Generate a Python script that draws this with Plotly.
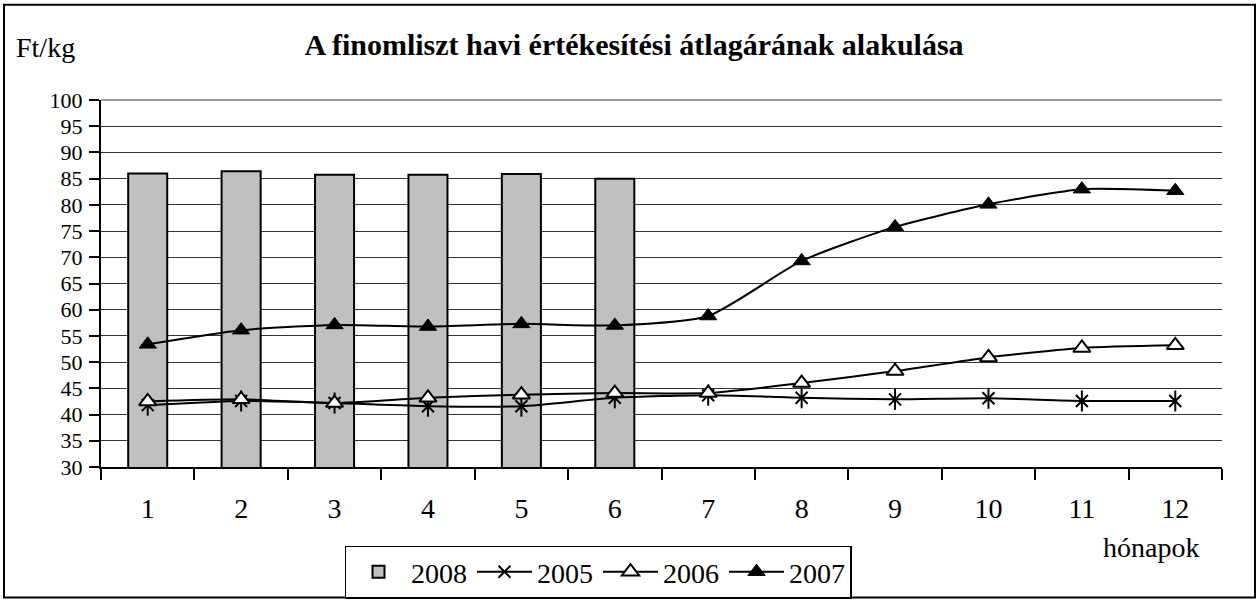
import plotly.graph_objects as go

months = [str(i) for i in range(1, 13)]
bar_months = months[:6]
v2008 = [86.0, 86.4, 85.75, 85.75, 85.9, 85.0]
v2005 = [41.8, 42.6, 42.2, 41.6, 41.6, 43.2, 43.7, 43.2, 42.9, 43.1, 42.6, 42.6]
v2006 = [42.5, 42.9, 42.2, 43.2, 43.8, 44.1, 44.1, 46.0, 48.3, 50.9, 52.7, 53.2]
v2007 = [53.4, 56.1, 57.1, 56.8, 57.3, 57.0, 58.8, 69.3, 75.8, 80.1, 83.0, 82.7]

FONT = "Liberation Serif, Times New Roman, serif"
FS = 28
YFS = 22
W, H = 1259, 610
L, R, T, B = 101, 37, 100, 136
PW, PH = W - L - R, H - T - B

def px(x):
    return (x - L) / PW

def py(y):
    return (H - B - y) / PH

LINE = dict(color="black", width=2, shape="spline", smoothing=0.6)

fig = go.Figure()
fig.add_trace(go.Bar(x=bar_months, y=v2008, name="2008",
                     marker=dict(color="#C0C0C0", line=dict(color="black", width=2))))
fig.add_trace(go.Scatter(x=months, y=v2005, name="2005", mode="lines+markers", legendgroup="2005",
                         line=LINE,
                         marker=dict(symbol="x-thin-open", size=12, color="black",
                                     line=dict(color="black", width=2))))
fig.add_trace(go.Scatter(x=months, y=v2005, name="2005", mode="markers", legendgroup="2005",
                         showlegend=False,
                         marker=dict(symbol="line-ns-open", size=15, color="black",
                                     line=dict(color="black", width=2))))
fig.add_trace(go.Scatter(x=months, y=v2006, name="2006", mode="lines+markers",
                         line=LINE,
                         marker=dict(symbol="triangle-up", size=15, color="white",
                                     line=dict(color="black", width=2))))
fig.add_trace(go.Scatter(x=months, y=v2007, name="2007", mode="lines+markers",
                         line=LINE,
                         marker=dict(symbol="triangle-up", size=15, color="black",
                                     line=dict(color="black", width=1))))

fig.update_layout(
    width=W, height=H, autosize=False,
    margin=dict(l=L, r=R, t=T, b=B),
    paper_bgcolor="white", plot_bgcolor="white",
    font=dict(family=FONT, size=FS, color="black"),
    bargap=0.582,
    title=dict(text="<b>A finomliszt havi értékesítési átlagárának alakulása</b>",
               x=634 / W, xanchor="center", y=1 - 44 / H, yanchor="middle",
               font=dict(family=FONT, size=30, color="black")),
    showlegend=True,
    legend=dict(orientation="h", x=px(598), xanchor="center", y=py(554), yanchor="top",
                bordercolor="black", borderwidth=1.5, bgcolor="white", itemwidth=55,
                font=dict(family=FONT, size=FS, color="black"), traceorder="normal"),
    xaxis=dict(type="category", categoryorder="array", categoryarray=months,
               range=[-0.5, 11.5], showgrid=False, showline=True, linecolor="black", linewidth=2,
               ticks="outside", tickson="boundaries", ticklen=11, tickwidth=2, tickcolor="black",
               ticklabelstandoff=15, tickfont=dict(family=FONT, size=FS), zeroline=False),
    yaxis=dict(range=[30, 100], dtick=5, showgrid=True, gridcolor="#333", gridwidth=1,
               showline=True, linecolor="black", linewidth=2, ticks="outside", ticklen=10,
               tickwidth=2, tickcolor="black", ticklabelstandoff=2,
               tickfont=dict(family=FONT, size=YFS), zeroline=False),
    annotations=[
        dict(text="Ft/kg", x=px(14), y=py(46), xref="paper", yref="paper", xanchor="left",
             yanchor="middle", showarrow=False, font=dict(family=FONT, size=FS)),
        dict(text="hónapok", x=px(1201), y=py(556), xref="paper", yref="paper", xanchor="right",
             yanchor="middle", showarrow=False, font=dict(family=FONT, size=FS)),
    ],
    shapes=[
        dict(type="rect", xref="paper", yref="paper", x0=px(4), x1=px(1255), y0=py(607), y1=py(3),
             line=dict(color="black", width=2), layer="below"),
        dict(type="line", xref="paper", yref="paper", x0=0, x1=1, y0=1, y1=1,
             line=dict(color="#333", width=1)),
    ],
)

fig.write_html("out.html", config={"displayModeBar": False},
               post_script="document.body.style.margin='0';document.body.style.padding='0';")
